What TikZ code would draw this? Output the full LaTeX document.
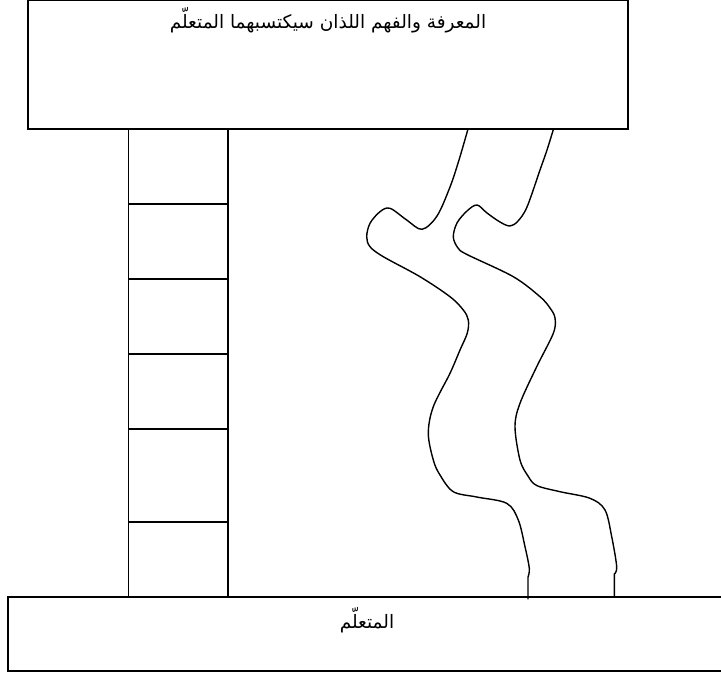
\documentclass[tikz,border=0pt]{standalone}
\usepackage{fontspec}
\newfontfamily\arabicfont[Script=Arabic]{DejaVu Sans}
\TeXXeTstate=1
\begin{document}
\begin{tikzpicture}[x=1pt,y=-1pt,
  box/.style={draw, line width=1.6pt, inner sep=0pt},
  rail/.style={line width=1.5pt},
  road/.style={line width=1.4pt, line join=round, line cap=round},
  lbl/.style={inner sep=0pt, font=\arabicfont\fontsize{18.5}{21}\selectfont}]
\useasboundingbox (0,0) rectangle (721,675);
% boxes
\node[box, minimum width=600pt, minimum height=128.5pt] (know) at (328,64.75) {};
\node[box, minimum width=716pt, minimum height=74pt] (learner) at (366,634) {};
\node[lbl, anchor=base] (knowlabel) at (328,28) {\beginR المعرفة والفهم اللذان سيكتسبهما المتعلّم\endR};
\node[lbl, anchor=base] (learnerlabel) at (367,628) {\beginR المتعلّم\endR};
% ladder
\coordinate (lt) at (128.5,129); \coordinate (lb) at (128.5,597);
\coordinate (rt) at (228,129);   \coordinate (rb) at (228,597);
\draw[rail] (lt) -- (lb);
\draw[rail] (rt) -- (rb);
\foreach \y in {204,279,354,429,522}
  \draw[rail] (128.5,\y) -- (228,\y);
% winding road
\coordinate (roadLend) at (528,599);
\coordinate (roadRend) at (614.3,597);
\draw[road] plot[smooth, tension=0.55] coordinates {
  (468,129) (459,160) (450,187) (437,216) (422,229.3) (406.7,220) (390,208.3)
  (380,211.7) (370,223.3) (366.7,236.7) (370,246.7) (383.3,256.7) (420,276.7)
  (450,296.7) (463.3,310) (468.3,320) (467.3,333) (460,350) (450,373.3)
  (433.3,406.7) (428.3,433.3) (433.3,460) (440,475) (453.3,491.7) (476.7,497)
  (506.7,503.3) (518.3,520) (525,546.7) (529.3,568.3) (528,577)} -- (roadLend);
\draw[road] plot[smooth, tension=0.55] coordinates {
  (553.5,129) (547,150) (540,170) (527,207) (518,221) (510,226) (500,222)
  (487,213) (477,205) (467,211) (457,223) (453.3,237) (458,248) (467,254.5)
  (513.3,276.7) (540,296.7) (550,308) (555,318) (553.3,333.3) (536.7,366.7)
  (520,403.3) (515,426.7) (520,460) (528,476) (536.7,485.5) (560,491.7)
  (590,498.3) (605,510) (611.7,536.7) (616.7,566.7) (614.3,574)} -- (roadRend);
\end{tikzpicture}
\end{document}
